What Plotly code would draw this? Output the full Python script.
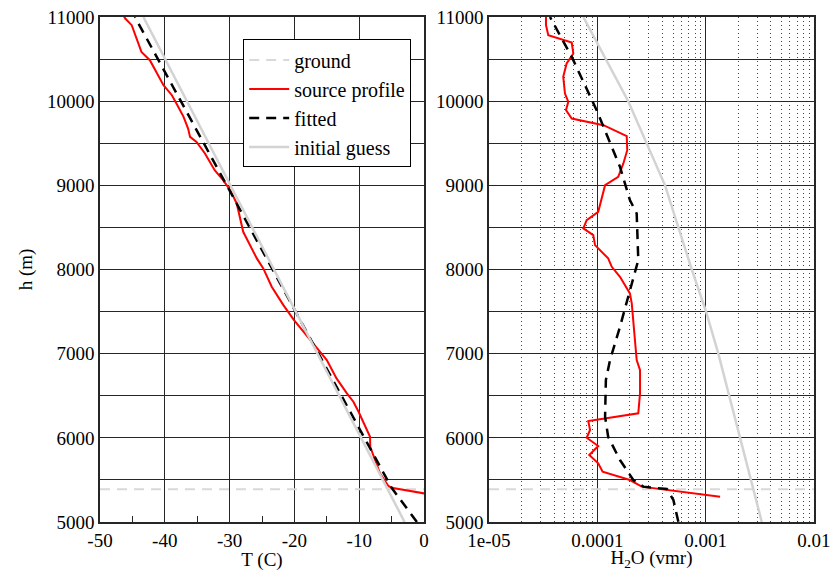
import plotly.graph_objects as go
from plotly.subplots import make_subplots

# ---- Temperature panel (T in C vs height in m) ----
src_T = [3.0, 0.05, -5.0, -5.5, -6.8, -8.3, -8.33, -10.1, -10.9, -11.9, -13.5, -15.0, -16.3,
         -18.1, -20.06, -21.7, -23.5, -24.8, -25.8, -27.9, -28.9, -29.9, -31.0, -32.3, -33.8,
         -35.1, -36.1, -36.4, -37.1, -38.2, -38.9, -40.2, -41.3, -42.3, -43.6, -44.6, -45.1,
         -46.1, -46.6]
src_T_h = [5300, 5341, 5407, 5428, 5578, 5894, 6013, 6310, 6429, 6528, 6706, 6924, 7043,
           7221, 7399, 7577, 7795, 8013, 8132, 8448, 8785, 8943, 9062, 9180, 9378,
           9517, 9576, 9675, 9814, 9972, 10071, 10190, 10348, 10487, 10586, 10784, 10903,
           10982, 11050]

fit_T = [-1.1, -5.0, -9.2, -16.3, -23.4, -30.4, -37.6, -44.6]
fit_T_h = [5000, 5407, 6000, 7000, 8000, 9000, 10000, 11000]

guess_T = [-3.0, -43.3]
guess_T_h = [5000, 11000]

# ---- Water vapour panel (H2O vmr vs height in m) ----
src_q = [1.36e-3, 3.29e-4, 2.57e-4, 2.00e-4, 1.12e-4, 1.02e-4, 8.43e-5, 1.02e-4, 7.98e-5,
         8.57e-5, 8.26e-5, 2.39e-4, 2.48e-4, 2.48e-4, 2.31e-4, 2.08e-4, 2.00e-4, 1.62e-4,
         1.36e-4, 1.26e-4, 9.53e-5, 9.18e-5, 7.43e-5, 7.98e-5, 1.02e-4, 1.18e-4, 1.56e-4,
         1.74e-4, 1.89e-4, 1.87e-4, 1.14e-4, 5.81e-5, 5.14e-5, 5.40e-5, 5.03e-5, 4.85e-5,
         5.21e-5, 6.01e-5, 5.81e-5, 3.53e-5, 3.36e-5, 3.36e-5]
src_q_h = [5301, 5396, 5420, 5499, 5597, 5697, 5796, 5903, 6001, 6093, 6199, 6291, 6528,
           6805, 6924, 7597, 7716, 7913, 8032, 8132, 8290, 8409, 8488, 8587, 8685, 9002,
           9101, 9260, 9418, 9584, 9715, 9794, 9893, 9992, 10091, 10289, 10448, 10566,
           10697, 10784, 10903, 11000]

fit_q = [5.60e-4, 5.04e-4, 4.38e-4, 2.66e-4, 2.15e-4, 1.62e-4, 1.26e-4, 1.18e-4, 1.20e-4,
         1.31e-4, 1.62e-4, 2.15e-4, 2.39e-4, 2.31e-4, 2.00e-4, 1.62e-4, 9.86e-5, 5.81e-5,
         3.66e-5]
fit_q_h = [5004, 5261, 5392, 5420, 5499, 5736, 6013, 6251, 6686, 6924, 7320, 7874, 8112,
           8666, 8824, 9220, 9893, 10526, 11000]

guess_q = [3.30e-3, 2.08e-3, 1.31e-3, 1.01e-3, 7.45e-4, 4.22e-4, 1.93e-4, 7.43e-5]
guess_q_h = [5000, 6000, 7000, 7500, 8000, 9000, 10000, 11000]

ground_h = 5390

h_ticks = list(range(5000, 11001, 500))
h_labels = [str(v) if v % 1000 == 0 else "" for v in h_ticks]
t_ticks = [-50, -40, -30, -20, -10, 0]
t_labels = ["-50", "-40", "-30", "-20", "-10", "0"]
q_ticks = [1e-5, 1e-4, 1e-3, 1e-2]
q_labels = ["1e-05", "0.0001", "0.001", "0.01"]

FONT = "Liberation Serif"
GRID = "#262626"
GROUND_C = "#d9d9d9"
GUESS_C = "#d3d3d3"

fig = make_subplots(rows=1, cols=2)

# left panel
fig.add_trace(go.Scatter(x=[-50, 0], y=[ground_h, ground_h], mode="lines", name="ground",
                         line=dict(color=GROUND_C, width=2, dash="10px,7px")), 1, 1)
fig.add_trace(go.Scatter(x=src_T, y=src_T_h, mode="lines", name="source profile",
                         line=dict(color="#ff0000", width=2)), 1, 1)
fig.add_trace(go.Scatter(x=fit_T, y=fit_T_h, mode="lines", name="fitted",
                         line=dict(color="black", width=2.5, dash="10px,7px")), 1, 1)
fig.add_trace(go.Scatter(x=guess_T, y=guess_T_h, mode="lines", name="initial guess",
                         line=dict(color=GUESS_C, width=2.5)), 1, 1)

# right panel
fig.add_trace(go.Scatter(x=[1e-5, 1e-2], y=[ground_h, ground_h], mode="lines", showlegend=False,
                         line=dict(color=GROUND_C, width=2, dash="10px,7px")), 1, 2)
fig.add_trace(go.Scatter(x=src_q, y=src_q_h, mode="lines", showlegend=False,
                         line=dict(color="#ff0000", width=2)), 1, 2)
fig.add_trace(go.Scatter(x=fit_q, y=fit_q_h, mode="lines", showlegend=False,
                         line=dict(color="black", width=2.5, dash="10px,7px")), 1, 2)
fig.add_trace(go.Scatter(x=guess_q, y=guess_q_h, mode="lines", showlegend=False,
                         line=dict(color=GUESS_C, width=2.5)), 1, 2)

axis_common = dict(showline=True, linecolor=GRID, linewidth=1.5, mirror=True,
                   gridcolor=GRID, gridwidth=1.3, zeroline=False, automargin=False,
                   tickfont=dict(family=FONT, size=19, color="black"),
                   title_font=dict(family=FONT, size=19, color="black"))

fig.update_xaxes(**axis_common)
fig.update_yaxes(**axis_common)

fig.update_xaxes(domain=[0.119, 0.5048], range=[-50, 0],
                 tickvals=t_ticks, ticktext=t_labels,
                 ticks="inside", ticklen=7, tickcolor=GRID,
                 minor=dict(dtick=5, tick0=-50, ticks="inside", ticklen=6, tickcolor=GRID,
                            showgrid=False),
                 title_text="T (C)", title_standoff=9, row=1, col=1)
fig.update_xaxes(domain=[0.5821, 0.969], type="log", range=[-5, -2],
                 tickvals=q_ticks, ticktext=q_labels, ticks="",
                 minor=dict(dtick="D1", showgrid=True, griddash="1px,3px", gridcolor="#444444",
                            gridwidth=1, ticks=""),
                 title_text="H<sub>2</sub>O (vmr)", title_standoff=14, row=1, col=2)
fig.update_yaxes(domain=[0.0858, 0.9702], range=[5000, 11000],
                 tickvals=h_ticks, ticktext=h_labels, ticks="inside", ticklen=7,
                 tickcolor=GRID, row=1, col=1, title_text="h (m)", title_standoff=9)
fig.update_yaxes(domain=[0.0858, 0.9702], range=[5000, 11000],
                 tickvals=h_ticks, ticktext=h_labels, ticks="inside", ticklen=7,
                 tickcolor=GRID, row=1, col=2)

fig.update_layout(
    width=840, height=571,
    margin=dict(l=0, r=0, t=0, b=0),
    plot_bgcolor="white", paper_bgcolor="white",
    font=dict(family=FONT, size=19, color="black"),
    legend=dict(x=0.2895, y=0.931, xanchor="left", yanchor="top",
                bgcolor="white", bordercolor="black", borderwidth=1,
                font=dict(family=FONT, size=20, color="black"),
                itemwidth=40, tracegroupgap=0),
)

fig.write_html("out.html")
